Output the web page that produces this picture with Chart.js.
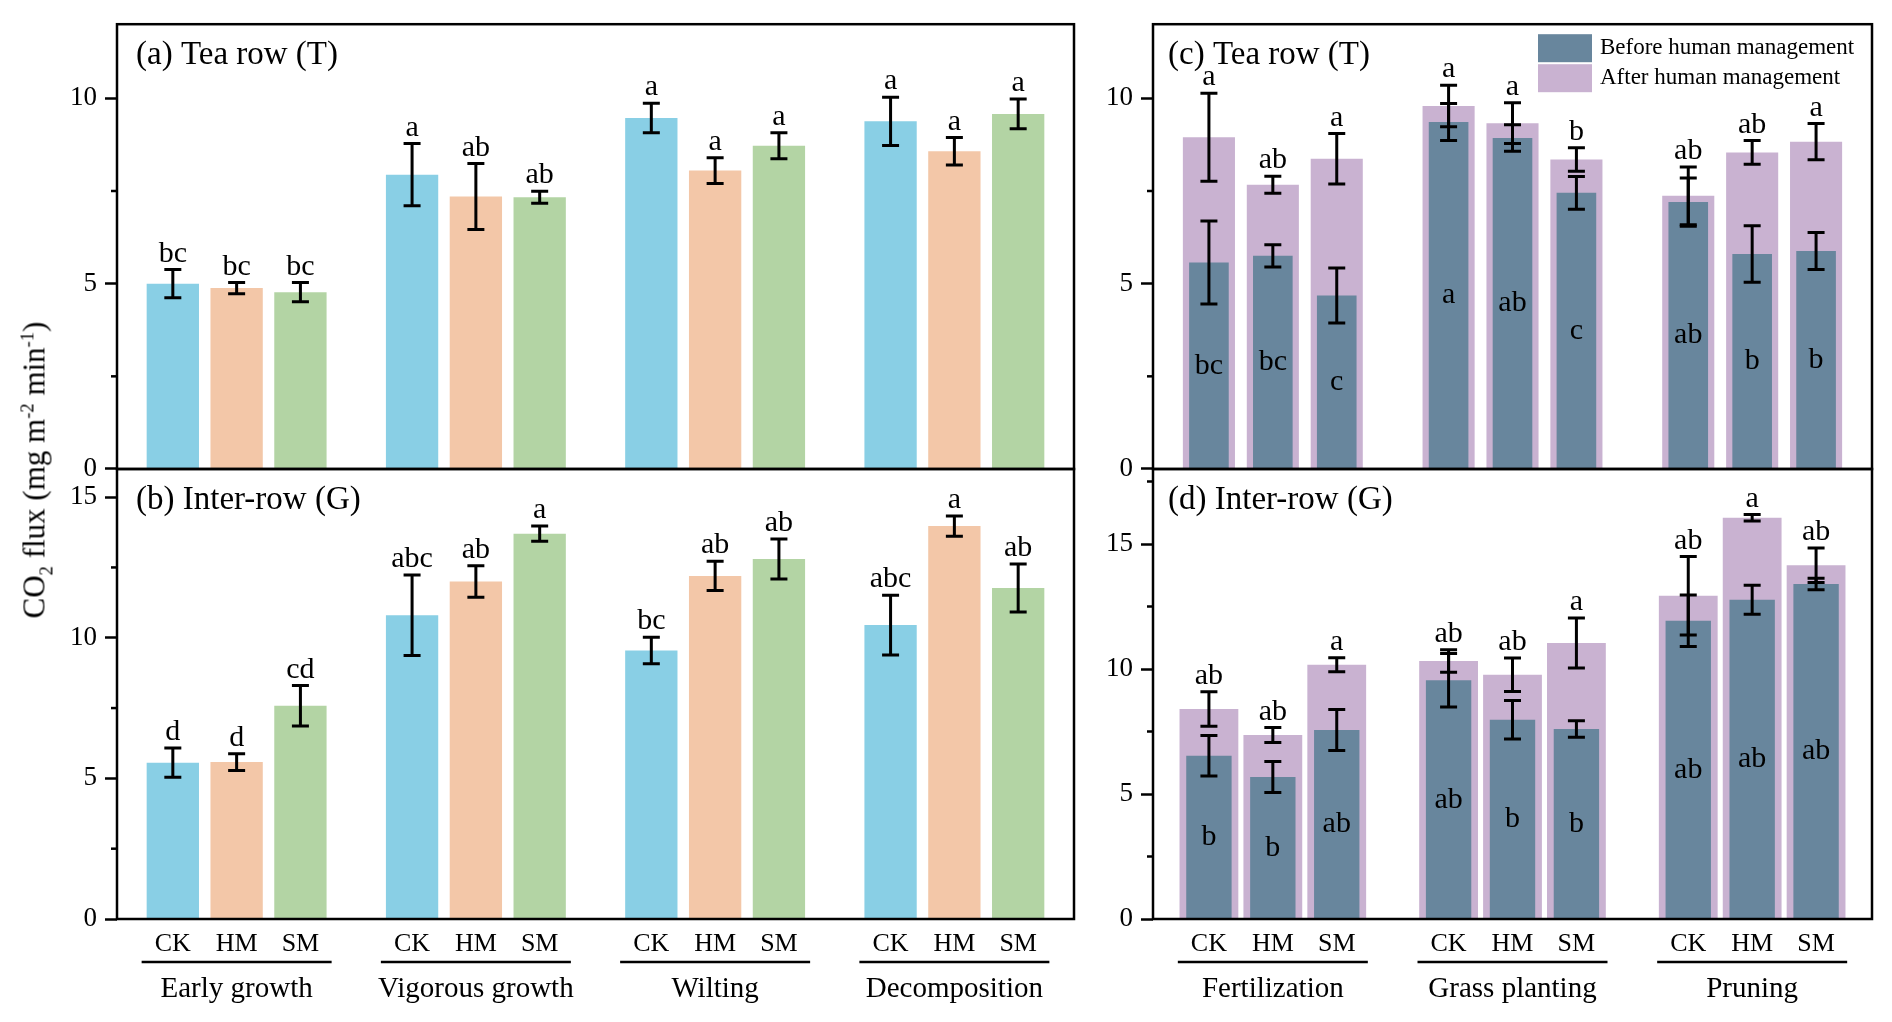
<!DOCTYPE html>
<html>
<head>
<meta charset="utf-8">
<title>CO2 flux under management</title>
<script src="https://cdn.jsdelivr.net/npm/chart.js@4.4.1/dist/chart.umd.min.js"></script>
<style>
html, body { margin: 0; padding: 0; background: #fff; overflow: hidden; }
#wrap { position: relative; width: 1892px; height: 1022px; }
#wrap canvas { position: absolute; left: 0; top: 0; }
#ytitle {
    position: absolute; left: 37px; top: 470px;
    transform: translate(-50%, -50%) rotate(-90deg);
    font-family: 'Liberation Serif', serif; font-size: 31px;
    white-space: nowrap; color: #000; line-height: 1;
}
#ytitle sub, #ytitle sup { font-size: 0.6em; }
</style>
</head>
<body>
<div id="wrap">
    <canvas id="chart-a" width="1892" height="1022"></canvas>
    <canvas id="chart-b" width="1892" height="1022"></canvas>
    <canvas id="chart-c" width="1892" height="1022"></canvas>
    <canvas id="chart-d" width="1892" height="1022"></canvas>
    <div id="ytitle">CO<sub>2</sub> flux (mg m<sup>-2</sup> min<sup>-1</sup>)</div>
</div>
<script>
// categories
const stages = ['Early growth', 'Vigorous growth', 'Wilting', 'Decomposition'];
const practices = ['Fertilization', 'Grass planting', 'Pruning'];
const treatments = ['CK', 'HM', 'SM'];
const periods = ['Before human management', 'After human management'];

// (a) tea row, by growth stage
const teaCK = [5.00, 7.94, 9.47, 9.38];
const teaCKErr = [0.38, 0.84, 0.40, 0.65];
const teaCKLet = ['bc', 'a', 'a', 'a'];
const teaHM = [4.88, 7.35, 8.05, 8.57];
const teaHMErr = [0.15, 0.89, 0.35, 0.37];
const teaHMLet = ['bc', 'ab', 'a', 'a'];
const teaSM = [4.77, 7.33, 8.72, 9.58];
const teaSMErr = [0.26, 0.16, 0.35, 0.40];
const teaSMLet = ['bc', 'ab', 'a', 'a'];

// (b) inter-row, by growth stage
const interCK = [5.56, 10.80, 9.55, 10.45];
const interCKErr = [0.52, 1.43, 0.47, 1.06];
const interCKLet = ['d', 'abc', 'bc', 'abc'];
const interHM = [5.58, 12.00, 12.20, 13.97];
const interHMErr = [0.30, 0.56, 0.52, 0.36];
const interHMLet = ['d', 'ab', 'ab', 'a'];
const interSM = [7.58, 13.70, 12.80, 11.77];
const interSMErr = [0.72, 0.27, 0.71, 0.85];
const interSMLet = ['cd', 'a', 'ab', 'ab'];

// (c) tea row, before / after management
const teaBeforeCK = [5.57, 9.36, 7.20];
const teaBeforeCKErr = [1.12, 0.50, 0.65];
const teaBeforeCKLet = ['bc', 'a', 'ab'];
const teaBeforeHM = [5.75, 8.93, 5.80];
const teaBeforeHMErr = [0.30, 0.36, 0.76];
const teaBeforeHMLet = ['bc', 'ab', 'b'];
const teaBeforeSM = [4.68, 7.45, 5.88];
const teaBeforeSMErr = [0.74, 0.44, 0.50];
const teaBeforeSMLet = ['c', 'c', 'b'];
const teaAfterCK = [8.95, 9.79, 7.37];
const teaAfterCKErr = [1.19, 0.56, 0.78];
const teaAfterCKLet = ['a', 'a', 'ab'];
const teaAfterHM = [7.67, 9.33, 8.54];
const teaAfterHMErr = [0.23, 0.55, 0.32];
const teaAfterHMLet = ['ab', 'a', 'ab'];
const teaAfterSM = [8.37, 8.35, 8.83];
const teaAfterSMErr = [0.68, 0.32, 0.49];
const teaAfterSMLet = ['a', 'b', 'a'];

// (d) inter-row, before / after management
const interBeforeCK = [6.53, 9.55, 11.93];
const interBeforeCKErr = [0.81, 1.07, 1.03];
const interBeforeCKLet = ['b', 'ab', 'ab'];
const interBeforeHM = [5.68, 7.97, 12.77];
const interBeforeHMErr = [0.62, 0.77, 0.58];
const interBeforeHMLet = ['b', 'b', 'ab'];
const interBeforeSM = [7.56, 7.60, 13.40];
const interBeforeSMErr = [0.82, 0.33, 0.23];
const interBeforeSMLet = ['ab', 'b', 'ab'];
const interAfterCK = [8.40, 10.32, 12.93];
const interAfterCKErr = [0.69, 0.45, 1.57];
const interAfterCKLet = ['ab', 'ab', 'ab'];
const interAfterHM = [7.36, 9.77, 16.05];
const interAfterHMErr = [0.30, 0.67, 0.13];
const interAfterHMLet = ['ab', 'ab', 'a'];
const interAfterSM = [10.17, 11.04, 14.15];
const interAfterSMErr = [0.28, 1.00, 0.69];
const interAfterSMLet = ['a', 'a', 'ab'];

const treatColors = ['#89CFE5', '#F3C7A8', '#B3D4A4'];
const periodColors = ['#68869D', '#C9B2D1'];
const serif = "'Liberation Serif', 'Times New Roman', serif";

Chart.defaults.font.family = serif;
Chart.defaults.color = '#000';

// error bars, letters, frame, minor ticks, titles, legend, x labels
const decor = {
    id: 'decor',
    afterDatasetsDraw(chart) {
        const ctx = chart.ctx;
        const y = chart.scales.y;
        const sets = chart.data.datasets;
        ctx.save();
        ctx.strokeStyle = '#000';
        ctx.lineWidth = 3;
        sets.forEach((ds, i) => {
            chart.getDatasetMeta(i).data.forEach((bar, j) => {
                const top = y.getPixelForValue(ds.data[j] + ds.errors[j]);
                const bot = y.getPixelForValue(ds.data[j] - ds.errors[j]);
                ctx.beginPath();
                ctx.moveTo(bar.x, top); ctx.lineTo(bar.x, bot);
                ctx.moveTo(bar.x - 8.5, top); ctx.lineTo(bar.x + 8.5, top);
                ctx.moveTo(bar.x - 8.5, bot); ctx.lineTo(bar.x + 8.5, bot);
                ctx.stroke();
            });
        });
        ctx.fillStyle = '#000';
        ctx.textAlign = 'center';
        ctx.font = '30px ' + serif;
        sets.forEach((ds, i) => {
            chart.getDatasetMeta(i).data.forEach((bar, j) => {
                if (ds.letterPos === 'mid') {
                    ctx.textBaseline = 'middle';
                    ctx.fillText(ds.letters[j], bar.x, y.getPixelForValue(ds.data[j] / 2));
                } else {
                    let hi = -Infinity;
                    sets.forEach(o => { if (o.treat === ds.treat) hi = Math.max(hi, o.data[j] + o.errors[j]); });
                    ctx.textBaseline = 'alphabetic';
                    ctx.fillText(ds.letters[j], bar.x, y.getPixelForValue(hi) - 8);
                }
            });
        });
        ctx.restore();
    },
    afterDraw(chart, args, opts) {
        const ctx = chart.ctx;
        const area = chart.chartArea;
        const y = chart.scales.y;
        ctx.save();
        ctx.strokeStyle = '#000';
        ctx.lineWidth = 2.5;
        ctx.strokeRect(area.left, area.top, area.right - area.left, area.bottom - area.top);
        y.ticks.forEach(t => {
            if (t.value % 5 !== 0) {
                const py = y.getPixelForValue(t.value);
                ctx.beginPath();
                ctx.moveTo(area.left - 6, py); ctx.lineTo(area.left, py);
                ctx.stroke();
            }
        });
        ctx.fillStyle = '#000';
        ctx.textAlign = 'left';
        ctx.textBaseline = 'alphabetic';
        ctx.font = '33px ' + serif;
        ctx.fillText(opts.title, area.left + opts.titleDx, area.top + 40);

        if (opts.legend) {
            ctx.font = '23px ' + serif;
            ctx.textBaseline = 'middle';
            periods.forEach((p, k) => {
                ctx.fillStyle = periodColors[k];
                ctx.fillRect(area.right - 334, area.top + 10 + k * 30, 54, 28);
                ctx.fillStyle = '#000';
                ctx.fillText(p, area.right - 272, area.top + 24 + k * 30);
            });
        }

        if (opts.xLabels) {
            const x = chart.scales.x;
            const sets = chart.data.datasets;
            ctx.textAlign = 'center';
            ctx.textBaseline = 'alphabetic';
            ctx.font = '26px ' + serif;
            sets.forEach((ds, i) => {
                if (!ds.labelRow) return;
                chart.getDatasetMeta(i).data.forEach(bar => ctx.fillText(ds.treat, bar.x, area.bottom + 32));
            });
            ctx.font = '29px ' + serif;
            x.getLabels().forEach((lab, j) => {
                const gx = x.getPixelForValue(j);
                ctx.beginPath();
                ctx.moveTo(gx - 95, area.bottom + 43); ctx.lineTo(gx + 95, area.bottom + 43);
                ctx.stroke();
                ctx.fillText(lab, gx, area.bottom + 78);
            });
        }
        ctx.restore();
    }
};

function yScale(max, width) {
    return {
        min: 0, max: max, stacked: false,
        ticks: {
            stepSize: 2.5, includeBounds: false, padding: 8,
            font: { family: serif, size: 27 },
            callback: v => (v % 5 === 0 ? String(v) : '')
        },
        grid: {
            drawOnChartArea: false, tickLength: 12, tickWidth: 2.5,
            tickColor: c => (c.tick && c.tick.value % 5 === 0 ? '#000' : 'rgba(0,0,0,0)')
        },
        border: { display: false },
        afterFit: s => { s.width = width; }
    };
}

function stageSets(vals, errs, lets) {
    return treatments.map((t, k) => ({
        label: t, data: vals[k], errors: errs[k], letters: lets[k],
        letterPos: 'top', treat: t, labelRow: true,
        backgroundColor: treatColors[k], borderWidth: 0,
        categoryPercentage: 0.8, barPercentage: 0.82
    }));
}

// before and after bars of one treatment share a slot (same stack key, values not summed)
function practiceSets(before, beforeErr, beforeLet, after, afterErr, afterLet, wBefore, wAfter) {
    const sets = [];
    treatments.forEach((t, k) => sets.push({
        label: t + ', ' + periods[0], data: before[k], errors: beforeErr[k], letters: beforeLet[k],
        letterPos: 'mid', treat: t, stack: t, order: 0,
        backgroundColor: periodColors[0], borderWidth: 0,
        categoryPercentage: 0.8, barPercentage: wBefore
    }));
    treatments.forEach((t, k) => sets.push({
        label: t + ', ' + periods[1], data: after[k], errors: afterErr[k], letters: afterLet[k],
        letterPos: 'top', treat: t, stack: t, order: 1, labelRow: true,
        backgroundColor: periodColors[1], borderWidth: 0,
        categoryPercentage: 0.8, barPercentage: wAfter
    }));
    return sets;
}

function makeChart(id, labels, datasets, pad, yMax, yWidth, decorOpts) {
    return new Chart(document.getElementById(id), {
        type: 'bar',
        data: { labels: labels, datasets: datasets },
        options: {
            responsive: false,
            animation: false,
            events: [],
            layout: { padding: pad },
            scales: {
                x: { type: 'category', offset: true, display: false },
                y: yScale(yMax, yWidth)
            },
            plugins: {
                legend: { display: false },
                tooltip: { enabled: false },
                decor: decorOpts
            }
        },
        plugins: [decor]
    });
}

makeChart('chart-a', stages,
    stageSets([teaCK, teaHM, teaSM], [teaCKErr, teaHMErr, teaSMErr], [teaCKLet, teaHMLet, teaSMLet]),
    { left: 0, top: 19, right: 818, bottom: 553 }, 12, 117,
    { title: '(a) Tea row (T)', titleDx: 19, legend: false, xLabels: false });

makeChart('chart-b', stages,
    stageSets([interCK, interHM, interSM], [interCKErr, interHMErr, interSMErr], [interCKLet, interHMLet, interSMLet]),
    { left: 0, top: 469, right: 818, bottom: 103 }, 16, 117,
    { title: '(b) Inter-row (G)', titleDx: 19, legend: false, xLabels: true });

makeChart('chart-c', practices,
    practiceSets([teaBeforeCK, teaBeforeHM, teaBeforeSM], [teaBeforeCKErr, teaBeforeHMErr, teaBeforeSMErr],
        [teaBeforeCKLet, teaBeforeHMLet, teaBeforeSMLet],
        [teaAfterCK, teaAfterHM, teaAfterSM], [teaAfterCKErr, teaAfterHMErr, teaAfterSMErr],
        [teaAfterCKLet, teaAfterHMLet, teaAfterSMLet], 0.62, 0.815),
    { left: 1093, top: 19, right: 20, bottom: 553 }, 12, 60,
    { title: '(c) Tea row (T)', titleDx: 15, legend: true, xLabels: false });

makeChart('chart-d', practices,
    practiceSets([interBeforeCK, interBeforeHM, interBeforeSM], [interBeforeCKErr, interBeforeHMErr, interBeforeSMErr],
        [interBeforeCKLet, interBeforeHMLet, interBeforeSMLet],
        [interAfterCK, interAfterHM, interAfterSM], [interAfterCKErr, interAfterHMErr, interAfterSMErr],
        [interAfterCKLet, interAfterHMLet, interAfterSMLet], 0.71, 0.92),
    { left: 1093, top: 469, right: 20, bottom: 103 }, 18, 60,
    { title: '(d) Inter-row (G)', titleDx: 15, legend: false, xLabels: true });
</script>
</body>
</html>
